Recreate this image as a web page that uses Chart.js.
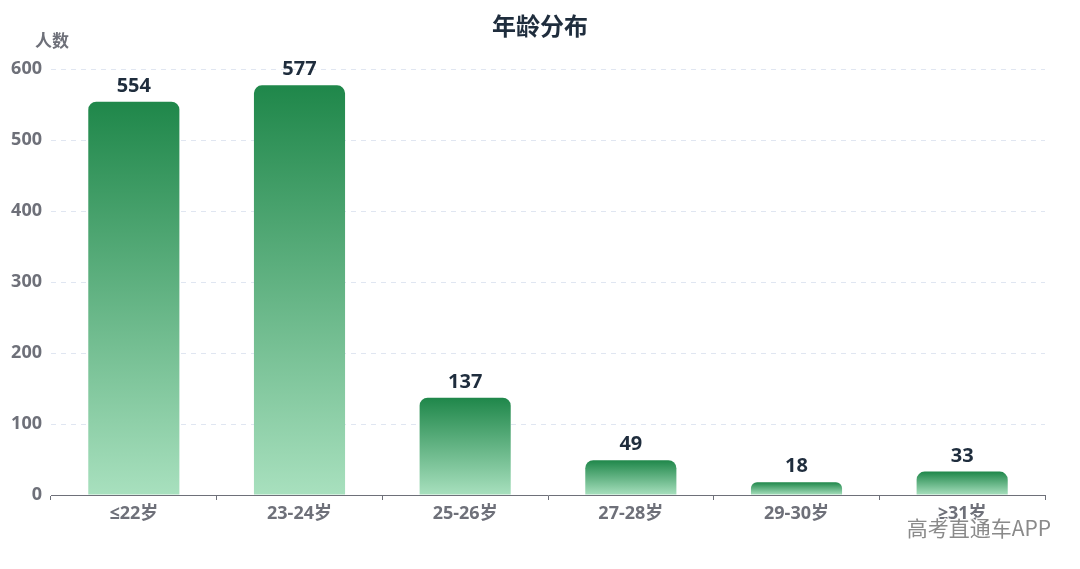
<!DOCTYPE html>
<html>
<head>
<meta charset="utf-8">
<script src="https://cdn.jsdelivr.net/npm/chart.js@4/dist/chart.umd.min.js"></script>
<style>
  html, body { margin: 0; padding: 0; background: #fff; }
  #wrap { width: 1080px; height: 569px; position: relative; }
</style>
</head>
<body>
<div id="wrap"><canvas id="ageChart"></canvas></div>
<script>
// 数据
const ageGroups = ['≤22岁', '23-24岁', '25-26岁', '27-28岁', '29-30岁', '≥31岁'];
const headCounts = [554, 577, 137, 49, 18, 33];
const yTicks = [0, 100, 200, 300, 400, 500, 600];

const FONT = '"Open Sans", "DejaVu Sans", "Noto Sans CJK SC", sans-serif';
const CJK = '"Noto Sans CJK SC", sans-serif';

// 每根柱子单独的渐变：顶部深绿，底部浅绿
function barGradient(ctx) {
  const chart = ctx.chart;
  const area = chart.chartArea;
  if (!area || ctx.raw === undefined) return '#2e8b57';
  const y = chart.scales.y;
  const top = y.getPixelForValue(ctx.raw);
  const bottom = y.getPixelForValue(0);
  const g = chart.ctx.createLinearGradient(0, top, 0, bottom);
  g.addColorStop(0, '#1f874a');
  g.addColorStop(1, '#a8e0be');
  return g;
}

// 标题、单位、数值标签、水印
const extras = {
  id: 'extras',
  afterDatasetsDraw(chart) {
    const c = chart.ctx;
    c.save();
    c.fillStyle = '#1f2d3d';
    c.font = 'bold 20px ' + FONT;
    c.textAlign = 'center';
    c.textBaseline = 'alphabetic';
    chart.getDatasetMeta(0).data.forEach((bar, i) => {
      c.fillText(String(headCounts[i]), bar.x, bar.y - 10);
    });
    c.restore();
  },
  afterDraw(chart) {
    const c = chart.ctx;
    c.save();
    c.fillStyle = '#1f2d3d';
    c.font = 'bold 24px ' + CJK;
    c.textAlign = 'center';
    c.textBaseline = 'middle';
    c.fillText('年龄分布', 540, 26);

    c.fillStyle = '#6e7079';
    c.font = 'bold 17px ' + CJK;
    c.textAlign = 'center';
    c.fillText('人数', 52, 41);

    c.font = '21px ' + CJK;
    c.textAlign = 'right';
    c.textBaseline = 'middle';
    c.lineWidth = 3;
    c.strokeStyle = 'rgba(255,255,255,0.85)';
    c.strokeText('高考直通车APP', 1051, 528);
    c.fillStyle = '#8a8a8a';
    c.fillText('高考直通车APP', 1051, 528);
    c.restore();
  }
};

new Chart(document.getElementById('ageChart'), {
  type: 'bar',
  data: {
    labels: ageGroups,
    datasets: [{
      label: '人数',
      data: headCounts,
      backgroundColor: barGradient,
      borderRadius: { topLeft: 8, topRight: 8 },
      borderSkipped: 'bottom',
      barPercentage: 0.55,
      categoryPercentage: 1
    }]
  },
  options: {
    responsive: true,
    maintainAspectRatio: false,
    animation: false,
    layout: { padding: { top: 69, right: 35, bottom: 0, left: 0 } },
    plugins: {
      legend: { display: false },
      title: { display: false },
      tooltip: { enabled: false }
    },
    scales: {
      x: {
        afterFit(scale) { scale.height = 74; },
        grid: {
          offset: true,
          drawOnChartArea: false,
          drawTicks: true,
          tickLength: 5,
          color: '#6e7079'
        },
        border: { display: true, color: '#6e7079', width: 1 },
        ticks: {
          color: '#6e7079',
          font: { family: FONT, size: 18, weight: 'bold' },
          padding: 3
        }
      },
      y: {
        min: 0,
        max: 600,
        afterFit(scale) { scale.width = 51; },
        afterBuildTicks(scale) { scale.ticks = yTicks.map(v => ({ value: v })); },
        grid: { color: '#e0e6f1', drawTicks: false },
        border: { display: false, dash: [5, 5] },
        ticks: {
          color: '#6e7079',
          font: { family: FONT, size: 18, weight: 'bold' },
          padding: 9
        }
      }
    }
  },
  plugins: [extras]
});
</script>
</body>
</html>
